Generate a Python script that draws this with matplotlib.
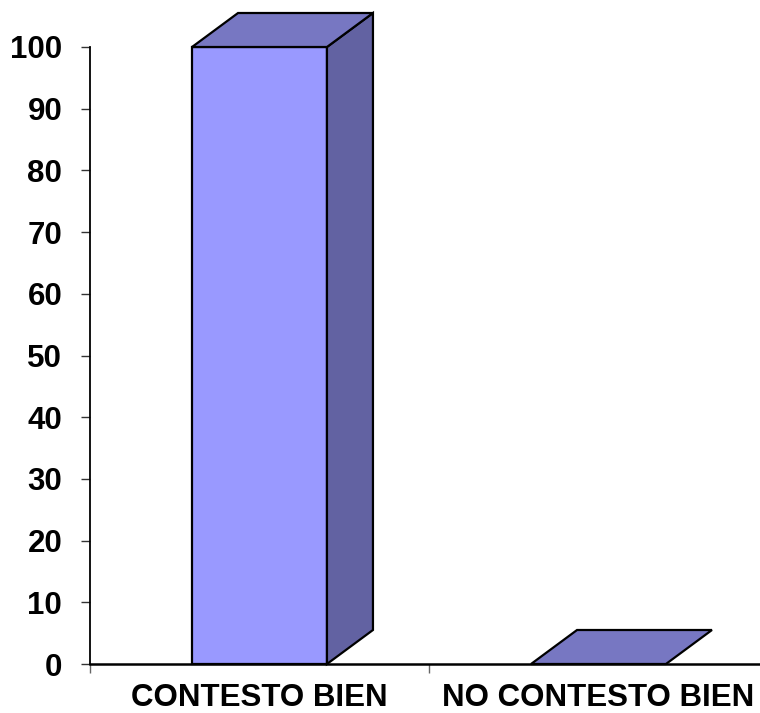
import matplotlib
matplotlib.use("Agg")
import matplotlib.pyplot as plt
from matplotlib.patches import Polygon

categories = ["CONTESTO BIEN", "NO CONTESTO BIEN"]
values = [100, 0]
yticks = [0, 10, 20, 30, 40, 50, 60, 70, 80, 90, 100]

W, H = 760, 713
fig = plt.figure(figsize=(W / 100, H / 100), dpi=100)
# plot area in pixels: x 90..768, y 47..664
ax = fig.add_axes([90 / W, (H - 664) / H, 678 / W, 617 / H])
ax.set_xlim(-0.5, 1.5)
ax.set_ylim(0, 100)

front = "#9999FF"
topc = "#7777C2"
sidec = "#6262A2"
bw = 0.398
DX, DY = 46, 34  # depth offset in pixels

fig.canvas.draw()
inv = ax.transData.inverted()

def off(x, y):
    px, py = ax.transData.transform((x, y))
    return tuple(inv.transform((px + DX, py + DY)))

for i, v in enumerate(values):
    x0, x1 = i - bw / 2, i + bw / 2
    if v > 0:
        ax.bar(i, v, width=bw, color=front, edgecolor="black", linewidth=1.6,
               zorder=3, clip_on=False)
        side = [(x1, 0), (x1, v), off(x1, v), off(x1, 0)]
        ax.add_patch(Polygon(side, closed=True, facecolor=sidec, edgecolor="black",
                             linewidth=1.6, zorder=3, clip_on=False))
    top = [(x0, v), (x1, v), off(x1, v), off(x0, v)]
    ax.add_patch(Polygon(top, closed=True, facecolor=topc, edgecolor="black",
                         linewidth=1.6, zorder=3, clip_on=False, joinstyle="miter"))

for s in ["top", "right"]:
    ax.spines[s].set_visible(False)
ax.spines["left"].set_color("black")
ax.spines["left"].set_linewidth(1.3)
ax.spines["bottom"].set_color("black")
ax.spines["bottom"].set_linewidth(1.8)

ax.set_yticks(yticks)
ax.set_yticklabels([str(t) for t in yticks], fontsize=22.5, fontweight="bold",
                   family=["Liberation Sans", "DejaVu Sans"])
ax.tick_params(axis="y", direction="out", length=6.5, width=1.0, color="#333333", pad=13.5)

ax.set_xticks([-0.5, 0.5, 1.5])
ax.set_xticklabels(["", "", ""])
ax.tick_params(axis="x", which="major", direction="out", length=6.5, width=1.0, color="#666666")
ax.set_xticks([0, 1], minor=True)
ax.set_xticklabels(categories, minor=True, fontsize=22.5, fontweight="bold",
                   family=["Liberation Sans", "DejaVu Sans"])
ax.tick_params(axis="x", which="minor", length=0, pad=14)

fig.savefig("out.png", dpi=100)
